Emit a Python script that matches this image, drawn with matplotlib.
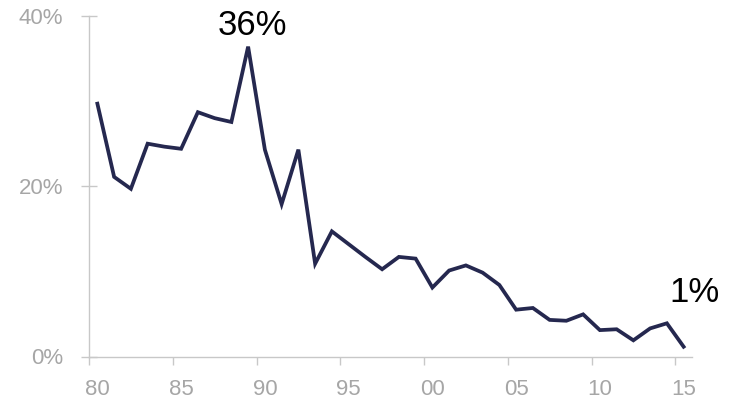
import matplotlib
matplotlib.use("Agg")
import matplotlib.pyplot as plt
import numpy as np

years = list(range(1980, 2016))
values = [29.7, 21.1, 19.7, 25.0, 24.65, 24.4, 28.7, 28.0, 27.55, 36.4,
          24.3, 17.9, 24.3, 10.9, 14.7, 13.2, 11.7, 10.25, 11.7, 11.5,
          8.1, 10.1, 10.7, 9.85, 8.4, 5.5, 5.7, 4.3, 4.2, 4.95,
          3.1, 3.2, 1.9, 3.3, 3.9, 1.15]
x_tick_years = [1980, 1985, 1990, 1995, 2000, 2005, 2010, 2015]
x_tick_labels = ["80", "85", "90", "95", "00", "05", "10", "15"]
y_ticks = [0, 20, 40]
y_tick_labels = ["0%", "20%", "40%"]
peak_label = "36%"
end_label = "1%"

plt.rcParams['font.family'] = ['Liberation Sans', 'DejaVu Sans']

fig = plt.figure(figsize=(7.40, 4.03), dpi=100)
ax = fig.add_axes([89/740, 1 - 356.5/403, (692-89)/740, (356.5-16)/403])

line_color = "#25284f"
axis_color = "#c8c8c8"
label_color = "#a6a6a6"

xs = np.array(years) + 0.5
ax.plot(xs, values, color=line_color, lw=2.7, solid_joinstyle='miter', clip_on=False)

ax.set_xlim(1980, 2016)
ax.set_ylim(0, 40)

for s in ['top', 'right']:
    ax.spines[s].set_visible(False)
for s in ['left', 'bottom']:
    ax.spines[s].set_color(axis_color)
    ax.spines[s].set_linewidth(1.0)

ax.set_xticks(x_tick_years)
ax.set_xticklabels([])
ax.set_xticks(np.array(x_tick_years) + 0.5, minor=True)
ax.set_xticklabels(x_tick_labels, minor=True)
ax.tick_params(axis='x', which='major', direction='out', length=6, width=1.0, color=axis_color)
ax.tick_params(axis='x', which='minor', length=0, pad=16, labelsize=16, labelcolor=label_color)

ax.set_yticks(y_ticks)
ax.set_yticklabels(y_tick_labels)
ax.tick_params(axis='y', direction='inout', length=11.5, width=1.0, color=axis_color,
               pad=13, labelsize=16, labelcolor=label_color)

ax.text(1989.74, 37.8, peak_label, ha='center', va='baseline', fontsize=25, color='black', clip_on=False)
ax.text(2016.17, 6.44, end_label, ha='center', va='baseline', fontsize=25, color='black', clip_on=False)

fig.savefig("out.png", dpi=100)
